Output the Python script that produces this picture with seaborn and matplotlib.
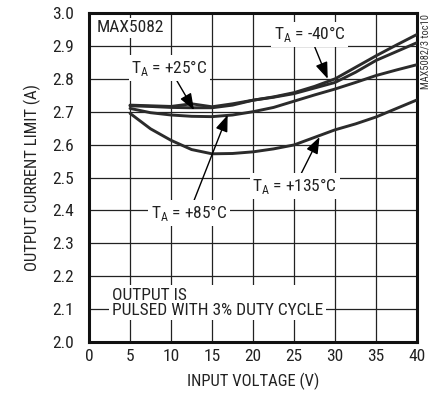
import matplotlib
matplotlib.use("Agg")
import matplotlib.pyplot as plt
import seaborn as sns
import pandas as pd
from matplotlib import font_manager

# ── data ───────────────────────────────────────────────────────────────────────
VIN = [5, 7.5, 10, 12.5, 15, 17.5, 20, 22.5, 25, 27.5, 30, 32.5, 35, 37.5, 40]

ILIM_M40 = [2.718, 2.716, 2.713, 2.712, 2.712, 2.720, 2.735, 2.745, 2.758,
            2.777, 2.800, 2.835, 2.870, 2.903, 2.935]
ILIM_25 = [2.720, 2.718, 2.716, 2.724, 2.715, 2.724, 2.735, 2.744, 2.755,
           2.772, 2.789, 2.820, 2.856, 2.883, 2.910]
ILIM_85 = [2.710, 2.697, 2.690, 2.686, 2.685, 2.690, 2.700, 2.713, 2.732,
           2.751, 2.769, 2.789, 2.810, 2.827, 2.843]
ILIM_135 = [2.695, 2.648, 2.613, 2.585, 2.572, 2.573, 2.578, 2.587, 2.599,
            2.622, 2.645, 2.663, 2.684, 2.710, 2.736]

X_TICKS = [0, 5, 10, 15, 20, 25, 30, 35, 40]
Y_TICKS = [2.0, 2.1, 2.2, 2.3, 2.4, 2.5, 2.6, 2.7, 2.8, 2.9, 3.0]

# ── style ──────────────────────────────────────────────────────────────────────
sns.set_style("white")
names = {f.name for f in font_manager.fontManager.ttflist}
narrow = [n for n in ("Roboto Condensed", "Archivo Narrow", "PT Sans Narrow")
          if n in names]
plt.rcParams["font.family"] = narrow[:1] + ["Liberation Sans", "DejaVu Sans"]
plt.rcParams["mathtext.fontset"] = "custom"
plt.rcParams["mathtext.rm"] = plt.rcParams["font.family"][0]

LINE = "#2b2b2b"
TXT = "#222222"

df = pd.DataFrame({
    "vin": VIN * 4,
    "ilim": ILIM_M40 + ILIM_25 + ILIM_85 + ILIM_135,
    "temp": (["-40"] * len(VIN) + ["25"] * len(VIN)
             + ["85"] * len(VIN) + ["135"] * len(VIN)),
})

fig = plt.figure(figsize=(4.4, 4.03), dpi=100)
ax = fig.add_axes([0.2023, 0.1514, 0.7457, 0.8163])

sns.lineplot(data=df, x="vin", y="ilim", hue="temp", units="temp",
             estimator=None, palette=[LINE] * 4, linewidth=2.1,
             legend=False, ax=ax, zorder=3)

ax.set_xlim(0, 40)
ax.set_ylim(2.0, 3.0)
ax.set_xticks(X_TICKS)
ax.set_yticks(Y_TICKS)
ax.set_xticklabels([str(t) for t in X_TICKS])
ax.set_yticklabels([f"{t:.1f}" for t in Y_TICKS])
ax.tick_params(length=0, labelsize=12.5, colors=TXT)
ax.tick_params(axis="y", pad=11)
ax.tick_params(axis="x", pad=5)
ax.grid(True, color="#222222", linewidth=0.9)
ax.set_axisbelow(True)
for s in ax.spines.values():
    s.set_visible(True)
    s.set_linewidth(2.2)
    s.set_color("#111111")

ax.set_xlabel("INPUT VOLTAGE (V)", fontsize=12, color=TXT, labelpad=6)
ax.set_ylabel("OUTPUT CURRENT LIMIT (A)", fontsize=12, color=TXT,
              labelpad=8)

box = dict(boxstyle="square,pad=0.15", fc="white", ec="none")
arrow = dict(arrowstyle="-|>,head_length=0.8,head_width=0.3", color="black",
             lw=1.0, shrinkA=0, shrinkB=0)
fs = 12.5

ax.text(0.9, 2.955, "MAX5082", fontsize=fs, ha="left", va="center",
        bbox=box, zorder=5, color=TXT)

ax.annotate("T$_\\mathrm{A}$ = -40°C", xy=(29.1, 2.80), xytext=(26.9, 2.935),
            fontsize=fs, ha="center", va="center", bbox=box,
            arrowprops=arrow, zorder=5, color=TXT)
ax.annotate("T$_\\mathrm{A}$ = +25°C", xy=(12.8, 2.705), xytext=(9.8, 2.833),
            fontsize=fs, ha="center", va="center", bbox=box,
            arrowprops=arrow, zorder=5, color=TXT)
ax.annotate("T$_\\mathrm{A}$ = +85°C", xy=(16.9, 2.69), xytext=(12.2, 2.392),
            fontsize=fs, ha="center", va="center", bbox=box,
            arrowprops=arrow, zorder=5, color=TXT)
ax.annotate("T$_\\mathrm{A}$ = +135°C", xy=(28.1, 2.623), xytext=(25.1, 2.474),
            fontsize=fs, ha="center", va="center", bbox=box,
            arrowprops=arrow, zorder=5, color=TXT)

ax.text(2.8, 2.12, "OUTPUT IS\nPULSED WITH 3% DUTY CYCLE", fontsize=fs,
        ha="left", va="center", linespacing=1.0, bbox=box, zorder=5,
        color=TXT)

fig.text(0.968, 0.965, "MAX5082/3 toc10", rotation=90, fontsize=7.5,
         ha="center", va="top", color="#333333")

fig.savefig("out.png", dpi=100)
